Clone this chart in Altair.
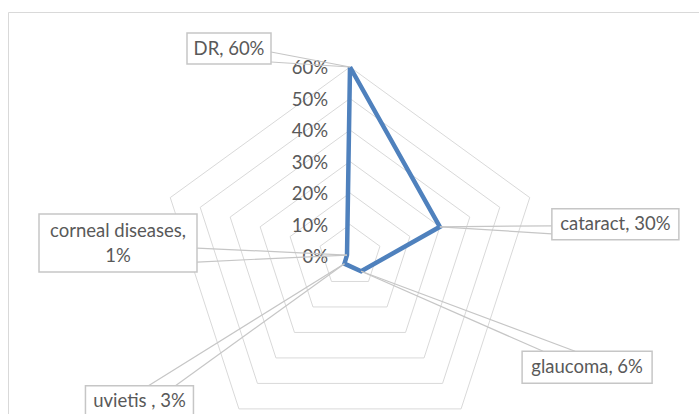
import altair as alt
import numpy as np
import pandas as pd

# Radar chart: share of eye diseases
categories = ["DR", "cataract", "glaucoma", "uvietis ", "corneal diseases"]
values = [60, 30, 6, 3, 1]
point_labels = ["DR, 60%", "cataract, 30%", "glaucoma, 6%", "uvietis , 3%", "corneal diseases,\n1%"]
grid_levels = [0, 10, 20, 30, 40, 50, 60]
tick_labels = ["0%", "10%", "20%", "30%", "40%", "50%", "60%"]

# Canvas / scale layout (pixels per percentage point, centre of the web)
W, H = 699, 414
K = 3.15
CX, CY = 350, 256
XDOM = [-CX / K, (W - CX) / K]
YDOM = [-(H - CY) / K, CY / K]
LINE_H = 25

# Callout boxes: centre offset from the point (px), box size (px),
# and the edge / positions where the pointer wedge leaves the box
callouts = {
    "DR": dict(off=(-121, -18.5), size=(84, 31), edge="right", base=(3.5, 13.5)),
    "cataract": dict(off=(175.5, -2.5), size=(127, 31), edge="left", base=(1.5, 9.5)),
    "glaucoma": dict(off=(226, 96), size=(130, 32), edge="top", base=(-44, -12)),
    "uvietis ": dict(off=(-205, 137.5), size=(108, 31), edge="top", base=(9, 36)),
    "corneal diseases": dict(off=(-229, -12), size=(158, 58), edge="right", base=(5, 19)),
}

n = len(categories)
angles = [2 * np.pi * i / n for i in range(n)]


def polar(r, a):
    return r * np.sin(a), r * np.cos(a)


# Grid pentagons
grid_rows = []
for lv in grid_levels:
    for j in range(n + 1):
        x, y = polar(lv, angles[j % n])
        grid_rows.append(dict(level=lv, order=j, x=x, y=y))
grid_df = pd.DataFrame(grid_rows)

# Value axis labels along the top spoke
tick_df = pd.DataFrame(dict(x=[0.0] * len(grid_levels), y=grid_levels, label=tick_labels))

# Series polygon
series_rows = []
for j in range(n + 1):
    x, y = polar(values[j % n], angles[j % n])
    series_rows.append(dict(order=j, x=x, y=y))
series_df = pd.DataFrame(series_rows)

# Callout boxes, text and pointer lines
box_rows, wedge_rows = [], []
for cat, val, lab, a in zip(categories, values, point_labels, angles):
    px, py = polar(val, a)
    c = callouts[cat]
    bx = px + c["off"][0] / K
    by = py - c["off"][1] / K
    hw, hh = c["size"][0] / 2 / K, c["size"][1] / 2 / K
    extra_lines = lab.count("\n")
    ty = by + extra_lines * LINE_H / 2 / K
    box_rows.append(dict(x=bx - hw, x2=bx + hw, y=by - hh, y2=by + hh, cx=bx, cy=ty, label=lab))
    for b in c["base"]:
        if c["edge"] == "right":
            ex, ey = bx + hw, by - b / K
        elif c["edge"] == "left":
            ex, ey = bx - hw, by - b / K
        else:
            ex, ey = bx + b / K, by + hh
        wedge_rows.append(dict(x=px, y=py, x2=ex, y2=ey))
box_df = pd.DataFrame(box_rows)
wedge_df = pd.DataFrame(wedge_rows)

xs = alt.Scale(domain=XDOM, nice=False, zero=False)
ys = alt.Scale(domain=YDOM, nice=False, zero=False)
FONT = "Lato"
FS = 18.5
GREY_TXT = "#595959"
BOX_STROKE = "#c6c6c6"

frame = alt.Chart(pd.DataFrame({"a": [0]})).mark_rect(
    fill=None, stroke="#d9d9d9", strokeWidth=1
).encode(x=alt.value(8.5), y=alt.value(12.5), x2=alt.value(760), y2=alt.value(460))

grid = alt.Chart(grid_df).mark_line(color="#d9d9d9", strokeWidth=1).encode(
    x=alt.X("x:Q", scale=xs, axis=None),
    y=alt.Y("y:Q", scale=ys, axis=None),
    detail="level:N",
    order="order:Q",
)

ticks = alt.Chart(tick_df).mark_text(
    align="right", baseline="middle", dx=-22, dy=1, font=FONT, fontSize=FS, color=GREY_TXT
).encode(
    x=alt.X("x:Q", scale=xs, axis=None),
    y=alt.Y("y:Q", scale=ys, axis=None),
    text="label:N",
)

series = alt.Chart(series_df).mark_line(color="#4F81BD", strokeWidth=4.5).encode(
    x=alt.X("x:Q", scale=xs, axis=None),
    y=alt.Y("y:Q", scale=ys, axis=None),
    order="order:Q",
)

wedges = alt.Chart(wedge_df).mark_rule(color=BOX_STROKE, strokeWidth=1.2).encode(
    x=alt.X("x:Q", scale=xs, axis=None),
    y=alt.Y("y:Q", scale=ys, axis=None),
    x2="x2:Q",
    y2="y2:Q",
)

boxes = alt.Chart(box_df).mark_rect(fill="white", stroke=BOX_STROKE, strokeWidth=1.5).encode(
    x=alt.X("x:Q", scale=xs, axis=None),
    y=alt.Y("y:Q", scale=ys, axis=None),
    x2="x2:Q",
    y2="y2:Q",
)

box_text = alt.Chart(box_df).mark_text(
    align="center", baseline="middle", lineBreak="\n", lineHeight=LINE_H,
    font=FONT, fontSize=FS, color=GREY_TXT
).encode(
    x=alt.X("cx:Q", scale=xs, axis=None),
    y=alt.Y("cy:Q", scale=ys, axis=None),
    text="label:N",
)

chart = (
    alt.layer(frame, grid, ticks, series, wedges, boxes, box_text)
    .properties(width=W, height=H, padding=0, autosize="none", background="white")
    .configure_view(stroke=None)
)

chart.save("out.html", embed_options={"renderer": "svg", "actions": False})
